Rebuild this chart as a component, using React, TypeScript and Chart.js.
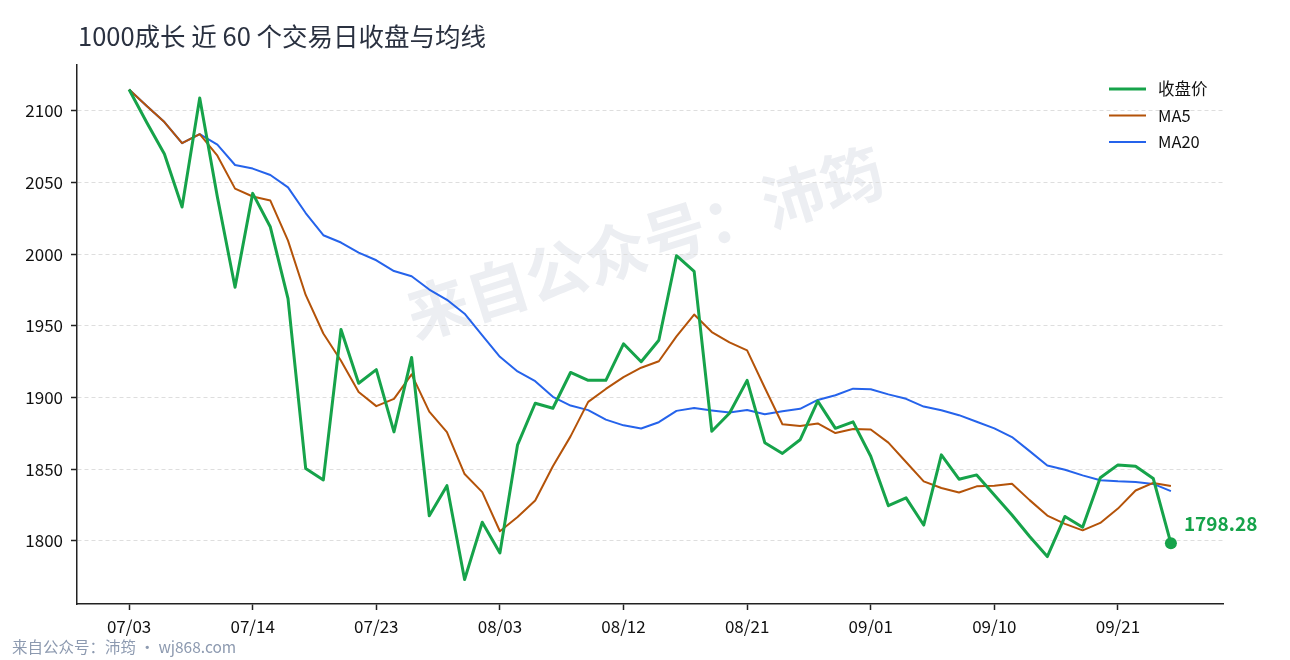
import React, { useEffect, useRef } from 'react';
import { Chart, registerables, Plugin } from 'chart.js';

Chart.register(...registerables);

const dates = [
  '07/03', '07/06', '07/07', '07/08', '07/09', '07/10', '07/13', '07/14', '07/15', '07/16',
  '07/17', '07/20', '07/21', '07/22', '07/23', '07/24', '07/27', '07/28', '07/29', '07/30',
  '07/31', '08/03', '08/04', '08/05', '08/06', '08/07', '08/10', '08/11', '08/12', '08/13',
  '08/14', '08/17', '08/18', '08/19', '08/20', '08/21', '08/24', '08/25', '08/26', '08/27',
  '08/28', '08/31', '09/01', '09/02', '09/03', '09/04', '09/07', '09/08', '09/09', '09/10',
  '09/11', '09/14', '09/15', '09/16', '09/17', '09/18', '09/21', '09/22', '09/23', '09/24',
];

const closes = [
  2115, 2092, 2070, 2033, 2109, 2040, 1977, 2042.5, 2019, 1969,
  1850.5, 1842.5, 1947.5, 1910, 1919.5, 1876, 1928, 1817.5, 1838.5, 1773,
  1813, 1791.5, 1867, 1896, 1892.5, 1917.5, 1912, 1912, 1937.5, 1925,
  1940, 1999, 1988, 1876.5, 1889, 1912, 1868.5, 1861, 1870.5, 1897.5,
  1878.5, 1883, 1859, 1824.5, 1830, 1811, 1860, 1843, 1846, 1832,
  1818, 1803, 1789, 1817, 1809.5, 1844, 1853, 1852, 1843.5, 1798.28,
];

const ma5 = [
  2115, 2103.5, 2092.3, 2077.5, 2083.8, 2068.8, 2045.8, 2040.3, 2037.5, 2009.5,
  1971.6, 1944.7, 1925.7, 1903.9, 1894, 1899.1, 1916.2, 1890.2, 1875.9, 1846.6,
  1834, 1806.7, 1816.6, 1828.1, 1852, 1872.9, 1897, 1906, 1914.3, 1920.8,
  1925.3, 1942.7, 1957.9, 1945.7, 1938.5, 1932.9, 1906.8, 1881.4, 1880.2, 1881.9,
  1875.2, 1878.1, 1877.7, 1868.5, 1855, 1841.5, 1836.9, 1833.7, 1838, 1838.4,
  1839.8, 1828.4, 1817.6, 1811.8, 1807.3, 1812.5, 1822.5, 1835.1, 1840.4, 1838.2,
];

const ma20 = [
  2115, 2103.5, 2092.3, 2077.5, 2083.8, 2076.5, 2062.3, 2059.8, 2055.3, 2046.7,
  2028.8, 2013.3, 2008.2, 2001.2, 1995.8, 1988.3, 1984.7, 1975.4, 1968.2, 1958.5,
  1943.4, 1928.4, 1918.2, 1911.4, 1900.5, 1894.4, 1891.2, 1884.6, 1880.6, 1878.4,
  1882.8, 1890.7, 1892.7, 1891, 1889.5, 1891.3, 1888.3, 1890.5, 1892.1, 1898.3,
  1901.6, 1906.2, 1905.8, 1902.2, 1899.1, 1893.7, 1891.1, 1887.7, 1883.1, 1878.5,
  1872.4, 1862.6, 1852.6, 1849.6, 1845.7, 1842.3, 1841.5, 1841, 1839.7, 1834.7,
];

const xTickLabels = ['07/03', '07/14', '07/23', '08/03', '08/12', '08/21', '09/01', '09/10', '09/21'];
const yTicks = [1800, 1850, 1900, 1950, 2000, 2050, 2100];

const seriesNames = ['收盘价', 'MA5', 'MA20'];
const seriesColors = ['#16a34a', '#b45309', '#2563eb'];
const seriesWidths = [3, 2, 2];

const FONT = '"Noto Sans CJK SC", "Noto Sans", sans-serif';

const toPoints = (arr: number[]) => arr.map((v, i) => ({ x: i, y: v }));

// title, footer, watermark, legend and the last-value label
const decorations: Plugin<'line'> = {
  id: 'decorations',
  beforeDraw(chart) {
    const ctx = chart.ctx;
    ctx.save();
    ctx.translate(645, 243);
    ctx.rotate((-17.4 * Math.PI) / 180);
    ctx.font = `bold 62px ${FONT}`;
    ctx.fillStyle = '#eceef2';
    ctx.textAlign = 'center';
    ctx.textBaseline = 'middle';
    ctx.fillText('来自公众号：沛筠', 0, 0);
    ctx.restore();
  },
  afterDraw(chart) {
    const ctx = chart.ctx;
    ctx.save();
    ctx.textBaseline = 'middle';
    ctx.textAlign = 'left';

    ctx.font = `25.5px ${FONT}`;
    ctx.fillStyle = '#2a3140';
    ctx.fillText('1000成长 近 60 个交易日收盘与均线', 78, 36);

    ctx.font = `15.5px ${FONT}`;
    ctx.fillStyle = '#8d9ab0';
    ctx.fillText('来自公众号：沛筠 · wj868.com', 12, 647);

    // legend
    ctx.font = `16.5px ${FONT}`;
    seriesNames.forEach((name, i) => {
      const y = 89 + i * 26.5;
      ctx.strokeStyle = seriesColors[i];
      ctx.lineWidth = seriesWidths[i];
      ctx.beginPath();
      ctx.moveTo(1109, y);
      ctx.lineTo(1146, y);
      ctx.stroke();
      ctx.fillStyle = '#111';
      ctx.fillText(name, 1158, y);
    });

    // last close label
    const meta = chart.getDatasetMeta(0);
    const last = meta.data[meta.data.length - 1];
    if (last) {
      ctx.font = `bold 19px ${FONT}`;
      ctx.fillStyle = seriesColors[0];
      ctx.fillText(closes[closes.length - 1].toFixed(2), last.x + 13, last.y - 19);
    }
    ctx.restore();
  },
};

const App: React.FC = () => {
  const chartRef = useRef<HTMLCanvasElement>(null);

  useEffect(() => {
    document.body.style.margin = '0';
    if (!chartRef.current) return;

    const lastIdx = closes.length - 1;
    const chart = new Chart(chartRef.current, {
      type: 'line',
      data: {
        datasets: [closes, ma5, ma20].map((arr, i) => ({
          label: seriesNames[i],
          data: toPoints(arr),
          borderColor: seriesColors[i],
          backgroundColor: seriesColors[i],
          borderWidth: seriesWidths[i],
          tension: 0,
          borderJoinStyle: 'round' as const,
          pointRadius: i === 0 ? (c: any) => (c.dataIndex === lastIdx ? 6 : 0) : 0,
          pointBorderWidth: 0,
          pointHoverRadius: 0,
        })),
      },
      options: {
        responsive: false,
        animation: false,
        events: [],
        layout: { padding: { top: 65, right: 67, bottom: 0, left: 0 } },
        plugins: {
          legend: { display: false },
          tooltip: { enabled: false },
        },
        scales: {
          x: {
            type: 'linear',
            min: -2.95,
            max: lastIdx + 2.95,
            afterBuildTicks: (axis: any) => {
              axis.ticks = xTickLabels.map((l) => ({ value: dates.indexOf(l) }));
            },
            afterFit: (scale: any) => {
              scale.height = 56;
            },
            ticks: {
              autoSkip: false,
              maxRotation: 0,
              padding: 6,
              color: '#111',
              font: { size: 17, family: FONT },
              callback: (v: any) => dates[v] ?? '',
            },
            grid: {
              drawOnChartArea: false,
              drawTicks: true,
              tickLength: 6,
              tickColor: '#222',
              tickWidth: 1.5,
            },
            border: { display: true, color: '#222', width: 1.5 },
          },
          y: {
            type: 'linear',
            min: 1755.9,
            max: 2132.1,
            afterBuildTicks: (axis: any) => {
              axis.ticks = yTicks.map((v) => ({ value: v }));
            },
            afterFit: (scale: any) => {
              scale.width = 77;
            },
            ticks: {
              padding: 8,
              color: '#111',
              font: { size: 17, family: FONT },
              callback: (v: any) => String(v),
            },
            grid: {
              color: '#dedede',
              lineWidth: 1,
              drawTicks: true,
              tickLength: 6,
              tickColor: '#222',
              tickWidth: 1.5,
            },
            border: { display: true, color: '#222', width: 1.5, dash: [4, 3] },
          },
        },
      },
      plugins: [decorations],
    });

    return () => {
      chart.destroy();
    };
  }, []);

  return (
    <div style={{ width: 1290, height: 660, background: '#fff' }}>
      <canvas ref={chartRef} width={1290} height={660} style={{ width: 1290, height: 660 }}></canvas>
    </div>
  );
};

export default App;
